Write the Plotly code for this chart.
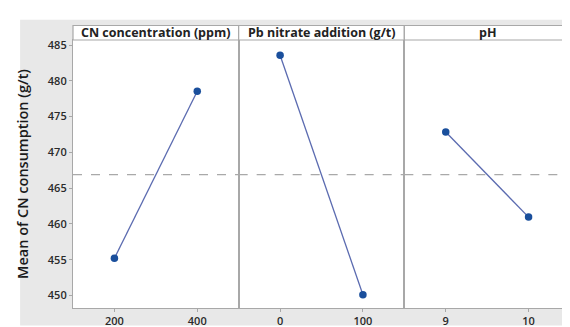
import plotly.graph_objects as go
from plotly.subplots import make_subplots

factors = ["CN concentration (ppm)", "Pb nitrate addition (g/t)", "pH"]
cn_levels = ["200", "400"]
cn_means = [455.2, 478.55]
pb_levels = ["0", "100"]
pb_means = [483.56, 450.1]
ph_levels = ["9", "10"]
ph_means = [472.84, 460.95]
overall_mean = 466.9
y_ticks = [450, 455, 460, 465, 470, 475, 480, 485]

W, H = 570, 327
ml, mr, mt, mb = 65, 7, 32, 18
pw, ph = W - ml - mr, H - mt - mb

fig = make_subplots(rows=1, cols=3, shared_yaxes=True, horizontal_spacing=0)

line_col = "#5b6bb0"
mark_col = "#1a4f9c"
frame = "#a8a8a8"
gray = "#e8e8e8"
tfont = dict(size=11, color="#2a2a2a", family="Open Sans", weight=600)

for i, (lv, mv) in enumerate([(cn_levels, cn_means), (pb_levels, pb_means), (ph_levels, ph_means)], start=1):
    fig.add_trace(go.Scatter(x=lv, y=mv, mode="lines+markers",
                             line=dict(color=line_col, width=1.3),
                             marker=dict(color=mark_col, size=7.5),
                             showlegend=False, hoverinfo="skip"), row=1, col=i)
    fig.add_hline(y=overall_mean, line=dict(color="#a9a9a9", width=1.2, dash="dash"), row=1, col=i)
    fig.update_xaxes(type="category", range=[-0.5, 1.5], showline=True, mirror=True,
                     linecolor=frame, linewidth=1.2, ticks="outside", ticklen=3,
                     tickcolor=frame, showgrid=False, zeroline=False,
                     tickfont=tfont, row=1, col=i)

fig.update_yaxes(range=[448.25, 485.7], tickvals=y_ticks, showline=True, mirror=True,
                 linecolor=frame, linewidth=1.2, showgrid=False, zeroline=False,
                 tickfont=tfont)
fig.update_yaxes(ticks="outside", ticklen=3, tickcolor=frame,
                 title=dict(text="Mean of CN consumption (g/t)",
                            font=dict(size=14.5, color="#1a1a1a", family="Open Sans", weight=600),
                            standoff=15),
                 row=1, col=1)

def px_x(p):
    return (p - ml) / pw

def px_y(p):
    return (H - mb - p) / ph

shapes = []
# gray frame in the margins (paper background is white)
gx0, gy0 = 12, 11
for (a, b, c, d) in [(gx0, W, gy0, mt), (gx0, ml, mt, H), (W - mr, W, mt, H), (ml, W - mr, H - mb, H)]:
    shapes.append(dict(type="rect", xref="paper", yref="paper",
                       x0=px_x(a), x1=px_x(b), y0=px_y(d), y1=px_y(c),
                       fillcolor=gray, line=dict(width=0), layer="below"))
annotations = []
hdr_top = px_y(17)
for k, name in enumerate(factors):
    x0, x1 = k / 3, (k + 1) / 3
    shapes.append(dict(type="rect", xref="paper", yref="paper", x0=x0, x1=x1, y0=1, y1=hdr_top,
                       fillcolor="white", line=dict(color=frame, width=1.2)))
    annotations.append(dict(text="<b>" + name + "</b>", xref="paper", yref="paper",
                            x=(x0 + x1) / 2, y=(1 + hdr_top) / 2, xanchor="center", yanchor="middle",
                            showarrow=False, font=dict(size=12.5, color="#222222", family="Open Sans")))

fig.update_layout(width=W, height=H, margin=dict(l=ml, r=mr, t=mt, b=mb),
                  paper_bgcolor="white", plot_bgcolor="white",
                  shapes=list(fig.layout.shapes) + shapes, annotations=annotations)

fig.write_html("out.html")
